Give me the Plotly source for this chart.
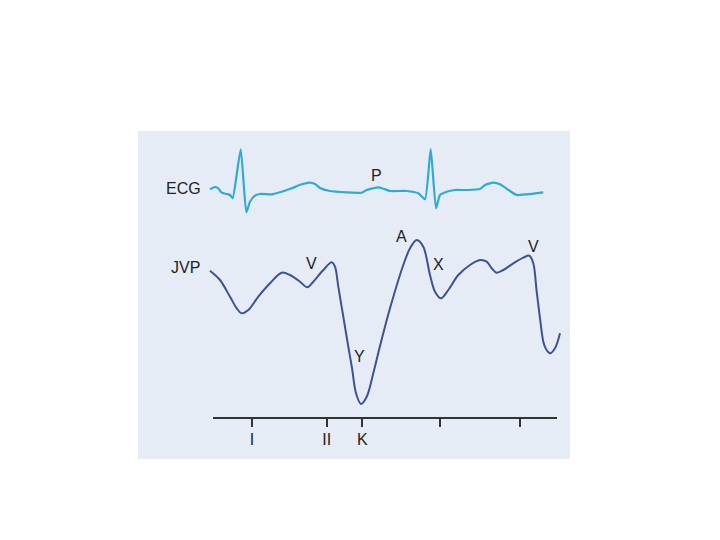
import plotly.graph_objects as go

# ECG trace (time units, amplitude units)
ecg_t = [72, 77, 80.3, 83.7, 88.7, 92, 94.7, 102.7, 108.3, 112, 117, 122, 133.7, 143.7,
         153.7, 163.7, 172, 177, 182, 192, 208.7, 223.7, 228.7, 240.3, 245.3, 252, 268.7,
         280.3, 287, 292.7, 298, 302, 308.7, 317, 328.7, 342, 347, 355.3, 362, 372, 378.7,
         388.7, 405.3]
ecg_v = [269.7, 272, 270.7, 266.3, 265, 264, 260.7, 309.7, 246.7, 257.3, 263.3, 265, 264.7, 267.3,
         270.7, 274.7, 276.3, 275, 271, 268, 266.7, 266.3, 269, 271.7, 270.3, 268, 268,
         265.7, 259.7, 310, 250.7, 264, 267.3, 269, 269, 270, 274, 276.3, 274.7, 268, 264,
         264.7, 266.7]

# JVP trace
jvp_t = [72, 82, 92, 98.7, 103.7, 110.3, 120.3, 132, 143.7, 152, 162, 169.3, 175.3, 185.3,
         193.7, 197, 200.3, 205.3, 210.3, 214, 218, 223, 228.7, 235.3, 242, 252,
         265.3, 272, 278.7, 285.3, 292, 297, 303, 310.3, 320.3, 332, 342, 348.7, 353.7,
         358.7, 365.3, 375.3, 385.3, 391.3, 395.3, 398.7, 402, 405.3, 408, 412, 417, 422]
jvp_v = [188.3, 179, 162.3, 150.7, 145.7, 149, 162.3, 175.7, 186.3, 184, 177.3, 171.7, 177.3, 189,
         196.7, 192.3, 172.3, 142.3, 112.3, 91, 65.7, 55, 62.3, 85.7, 113, 150.7,
         194, 210.7, 219, 212.3, 184, 167.3, 160.7, 169, 184, 194, 199, 197.3, 190.7,
         186.3, 189, 195.7, 201.3, 203.3, 195.7, 167.3, 140.7, 117.3, 110, 105.7, 110.7, 125.7]

# time axis ticks
tick_t = [114, 188.7, 224.3, 301.7, 382]
tick_text = ["I", "II", "K", "", ""]

# labels
label_text = ["ECG", "JVP", "P", "V", "Y", "A", "X", "V"]
label_t = [45, 47.5, 238, 173.7, 221.7, 263, 300, 395]
label_v = [271, 191.5, 283.5, 195.3, 102.3, 223, 195, 212.3]

fig = go.Figure()

fig.add_trace(go.Scatter(x=ecg_t, y=ecg_v, mode="lines",
                         line=dict(color="#2eaad6", width=2.2, shape="spline", smoothing=0.5),
                         hoverinfo="skip", showlegend=False))
fig.add_trace(go.Scatter(x=jvp_t, y=jvp_v, mode="lines",
                         line=dict(color="#3d5293", width=2, shape="spline", smoothing=0.9),
                         hoverinfo="skip", showlegend=False))
# invisible trace so the time axis gets drawn
fig.add_trace(go.Scatter(x=tick_t, y=[None] * len(tick_t), xaxis="x2", yaxis="y",
                         mode="markers", hoverinfo="skip", showlegend=False))

for txt, tx, ty in zip(label_text, label_t, label_v):
    fig.add_annotation(x=tx, y=ty, text=txt, showarrow=False,
                       font=dict(size=16, color="#222222"))

# panel background as a shape, so the second subplot doesn't paint over the traces
fig.add_shape(type="rect", xref="paper", yref="paper", x0=0, x1=1, y0=0, y1=1,
              fillcolor="#e5ecf6", line_width=0, layer="below")

fig.update_layout(
    width=720, height=540,
    margin=dict(l=130, r=158, t=123, b=89),
    paper_bgcolor="white",
    plot_bgcolor="rgba(0,0,0,0)",
    font=dict(family="Liberation Sans, Arial, sans-serif", color="#222222"),
    showlegend=False,
    xaxis=dict(range=[0, 432], visible=False, showgrid=False, zeroline=False),
    yaxis=dict(range=[0, 328], visible=False, showgrid=False, zeroline=False),
    xaxis2=dict(range=[75, 419.3], domain=[75 / 432, 419.3 / 432],
                anchor="free", position=40.7 / 328,
                showline=True, linecolor="#333333", linewidth=2,
                ticks="outside", ticklen=8, tickwidth=2, tickcolor="#333333",
                tickvals=tick_t, ticktext=tick_text,
                tickfont=dict(size=16, color="#222222"),
                ticklabelstandoff=-2,
                showgrid=False, zeroline=False),
)

fig.write_html("out.html")
